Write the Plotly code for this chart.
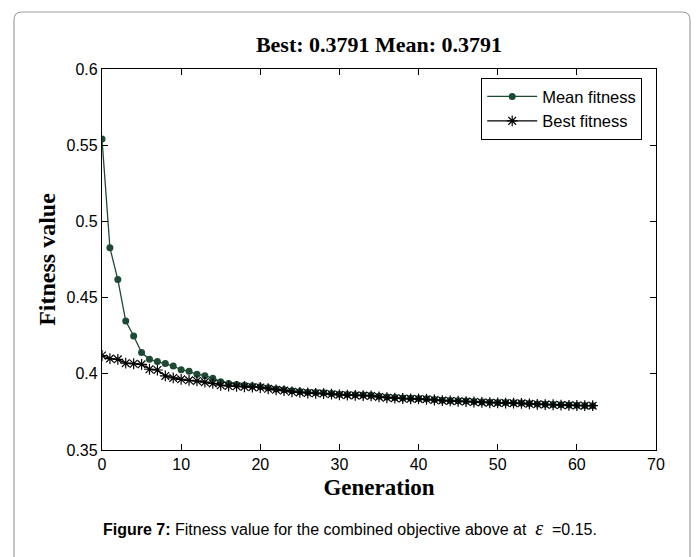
import plotly.graph_objects as go

generation = list(range(63))

best_fitness = [
    0.4120, 0.4100, 0.4095, 0.4070, 0.4066, 0.4062, 0.4030, 0.4025, 0.3986, 0.3973,
    0.3964, 0.3957, 0.3953, 0.3945, 0.3937, 0.3925, 0.3920, 0.3918, 0.3915, 0.3912,
    0.3910, 0.3902, 0.3895, 0.3890, 0.3882, 0.3878, 0.3874, 0.3872, 0.3870, 0.3866,
    0.3862, 0.3860, 0.3858, 0.3857, 0.3855, 0.3848, 0.3843, 0.3840, 0.3838, 0.3836,
    0.3835, 0.3833, 0.3828, 0.3824, 0.3822, 0.3820, 0.3818, 0.3815, 0.3812, 0.3810,
    0.3809, 0.3808, 0.3807, 0.3806, 0.3803, 0.3800, 0.3798, 0.3797, 0.3795, 0.3793,
    0.3792, 0.3791, 0.3791,
]

mean_fitness = [
    0.5540, 0.4827, 0.4618, 0.4346, 0.4248, 0.4139, 0.4095, 0.4080, 0.4067, 0.4051,
    0.4027, 0.4016, 0.3997, 0.3988, 0.3970, 0.3948, 0.3937, 0.3930, 0.3925, 0.3920,
    0.3915, 0.3908, 0.3901, 0.3896, 0.3888, 0.3884, 0.3879, 0.3877, 0.3875, 0.3870,
    0.3866, 0.3864, 0.3862, 0.3861, 0.3859, 0.3852, 0.3847, 0.3844, 0.3841, 0.3839,
    0.3838, 0.3836, 0.3831, 0.3827, 0.3825, 0.3823, 0.3821, 0.3818, 0.3815, 0.3813,
    0.3812, 0.3811, 0.3810, 0.3808, 0.3805, 0.3802, 0.3800, 0.3799, 0.3797, 0.3795,
    0.3793, 0.3792, 0.3791,
]

x_ticks = [0, 10, 20, 30, 40, 50, 60, 70]
y_ticks = [0.35, 0.4, 0.45, 0.5, 0.55, 0.6]
y_tick_labels = ["0.35", "0.4", "0.45", "0.5", "0.55", "0.6"]

GREEN = "#1d4a35"

fig = go.Figure()
fig.add_trace(go.Scatter(
    x=generation, y=mean_fitness, name="Mean fitness", mode="lines+markers",
    line=dict(color=GREEN, width=1.3),
    marker=dict(symbol="circle", size=7, color=GREEN),
))
fig.add_trace(go.Scatter(
    x=generation, y=best_fitness, name="Best fitness", mode="lines+markers",
    line=dict(color="black", width=1.3),
    marker=dict(symbol="asterisk-open", size=9, color="black", line=dict(color="black", width=1.2)),
))

# plot area in pixels: left 102, right 656, top 69, bottom 450
L, R, T, B = 102, 656, 69, 450
W, H = R - L, B - T


def px(x):
    return (x - L) / W


def py(y):
    return (B - y) / H


# rounded border frame around figure
x0, x1, y0, y1, r = 14, 690, 12, 575, 8
rx, ry = r / W, r / H
path = (
    f"M {px(x0)},{py(y1)} L {px(x0)},{py(y0) - ry} "
    f"Q {px(x0)},{py(y0)} {px(x0) + rx},{py(y0)} "
    f"L {px(x1) - rx},{py(y0)} "
    f"Q {px(x1)},{py(y0)} {px(x1)},{py(y0) - ry} "
    f"L {px(x1)},{py(y1)}"
)
fig.add_shape(type="path", path=path, xref="paper", yref="paper",
              line=dict(color="#a0a0a0", width=1.2), layer="below")

fig.update_layout(
    width=699, height=557,
    margin=dict(l=L, r=699 - R, t=T, b=557 - B),
    paper_bgcolor="white", plot_bgcolor="white",
    title=dict(text="<b>Best: 0.3791 Mean: 0.3791</b>",
               font=dict(family="Liberation Serif", size=22, color="black"),
               x=0.5, xanchor="center", xref="paper", y=1 - 44 / 557, yanchor="middle"),
    showlegend=True,
    legend=dict(x=px(481), y=py(78), xanchor="left", yanchor="top",
                bgcolor="white", bordercolor="black", borderwidth=1.2,
                font=dict(family="Liberation Sans", size=16.5, color="black"),
                itemwidth=50, tracegroupgap=0),
    font=dict(family="Liberation Sans", size=16, color="black"),
)

fig.update_xaxes(
    range=[0, 70], tickvals=x_ticks, ticks="inside", ticklen=6, tickcolor="black",
    showline=True, linecolor="black", linewidth=1.3, mirror="ticks", showgrid=False,
    zeroline=False, tickfont=dict(family="Liberation Sans", size=16, color="black"),
    title=dict(text="<b>Generation</b>", font=dict(family="Liberation Serif", size=23, color="black"),
               standoff=6),
)
fig.update_yaxes(
    range=[0.35, 0.6], tickvals=y_ticks, ticktext=y_tick_labels, ticks="inside", ticklen=6,
    tickcolor="black", showline=True, linecolor="black", linewidth=1.3, mirror="ticks",
    showgrid=False, zeroline=False,
    tickfont=dict(family="Liberation Sans", size=16, color="black"),
    title=dict(text="<b>Fitness value</b>", font=dict(family="Liberation Serif", size=24, color="black"),
               standoff=4),
)

fig.add_annotation(
    text="<b>Figure 7:</b> Fitness value for the combined objective above at  "
         "<span style='font-family:Liberation Serif;font-size:20px'><i>ε</i></span>  =0.15.",
    xref="paper", yref="paper", x=px(350), y=py(528), xanchor="center", yanchor="middle",
    showarrow=False, font=dict(family="Liberation Sans", size=16, color="black"),
)

fig.write_html("out.html")
